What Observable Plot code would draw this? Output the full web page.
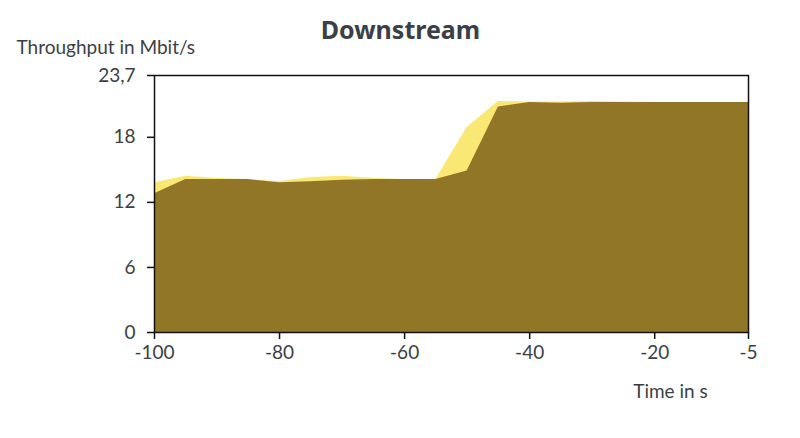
<!DOCTYPE html>
<html>
<head>
<meta charset="utf-8">
<script src="https://cdn.jsdelivr.net/npm/d3@7"></script>
<script src="https://cdn.jsdelivr.net/npm/@observablehq/plot@0.6"></script>
<style>
  html, body { margin: 0; padding: 0; background: #fff; }
  svg { display: block; }
</style>
</head>
<body>
<div id="chart"></div>
<script>
const time = [-100, -95, -90, -85, -80, -75, -70, -65, -60, -55, -50, -45, -40, -35, -30, -25, -20, -15, -10, -5];
const seriesLight = [13.8, 14.4, 14.2, 14.1, 13.9, 14.3, 14.4, 14.2, 14.1, 14.1, 18.9, 21.3, 21.25, 21.25, 21.3, 21.25, 21.2, 21.2, 21.2, 21.2];
const seriesDark  = [12.8, 14.1, 14.1, 14.1, 13.8, 13.9, 14.05, 14.1, 14.1, 14.1, 14.9, 20.8, 21.2, 21.15, 21.2, 21.2, 21.2, 21.2, 21.2, 21.2];
const yTicks = [0, 6, 12, 18, 23.7];
const xTicks = [-100, -80, -60, -40, -20, -5];
const title = "Downstream";
const yLabel = "Throughput in Mbit/s";
const xLabel = "Time in s";

const light = time.map((t, i) => ({t, v: seriesLight[i]}));
const dark = time.map((t, i) => ({t, v: seriesDark[i]}));

const font = "Lato, 'Noto Sans', sans-serif";
const textColor = "#3b3f45";

const chart = Plot.plot({
  width: 800,
  height: 438,
  marginLeft: 154,
  marginRight: 52,
  marginTop: 75,
  marginBottom: 106,
  style: {fontFamily: font, fontSize: "19px", color: textColor, background: "#fff"},
  x: {domain: [-100, -5], label: null},
  y: {domain: [0, 23.7], label: null},
  marks: [
    Plot.areaY(light, {x: "t", y1: 0, y2: "v", fill: "#fae874"}),
    Plot.areaY(dark, {x: "t", y1: 0, y2: "v", fill: "#927627"}),
    Plot.frame({stroke: "#111", strokeWidth: 1.5}),
    Plot.axisX({ticks: xTicks, tickSize: 7, tickPadding: 6, stroke: "#111", strokeWidth: 1.5, fontSize: 19, label: null,
      tickFormat: d => String(d)}),
    Plot.axisY({ticks: yTicks, tickSize: 7, tickPadding: 12, stroke: "#111", strokeWidth: 1.5, fontSize: 19, label: null,
      tickFormat: d => String(d).replace(".", ",")}),
    Plot.text([title], {frameAnchor: "top", lineAnchor: "middle", dx: -51, dy: -45, text: d => d, fontSize: 25, fontWeight: "bold", fontFamily: "'Noto Sans', sans-serif", fill: textColor}),
    Plot.text([yLabel], {frameAnchor: "top-left", lineAnchor: "middle", dx: -138, dy: -28, text: d => d, textAnchor: "start", fontSize: 19, fill: textColor}),
    Plot.text([xLabel], {frameAnchor: "bottom-right", lineAnchor: "middle", dx: -78, dy: 59, text: d => d, textAnchor: "middle", fontSize: 19, fill: textColor})
  ]
});
document.getElementById("chart").appendChild(chart);
</script>
</body>
</html>
